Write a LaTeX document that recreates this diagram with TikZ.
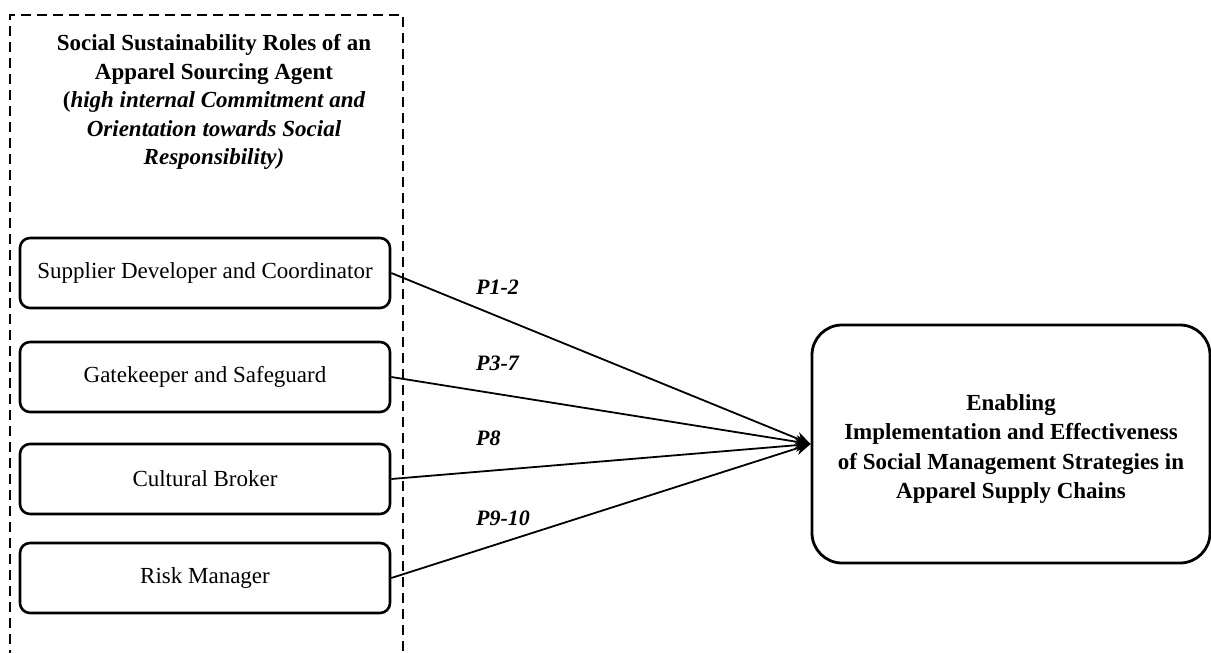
\documentclass[tikz,border=0pt]{standalone}
\usepackage{fontspec}
\setmainfont{Liberation Serif}
\usetikzlibrary{arrows.meta}
\begin{document}
\begin{tikzpicture}[x=1pt,y=-1pt,
  role/.style={draw,line width=2.6pt,rounded corners=10pt,minimum width=370pt,minimum height=70pt,inner sep=0pt,font=\fontsize{23}{26}\selectfont},
  goalbox/.style={draw,line width=2.8pt,rounded corners=30pt,minimum width=398pt,minimum height=238pt,inner sep=0pt},
  goaltext/.style={align=center,inner sep=0pt,font=\bfseries\fontsize{23}{29.5}\selectfont},
  link/.style={line width=1.8pt,-{Stealth[length=15pt,width=13pt]}},
  plabel/.style={anchor=west,inner sep=0pt,font=\bfseries\itshape\fontsize{22}{26}\selectfont},
  frame/.style={line width=1.8pt,dash pattern=on 10pt off 6pt}]
\useasboundingbox (0,0) rectangle (1211,653);

% dashed frame around the agent roles (open at the bottom)
\coordinate (fbl) at (10,660);
\coordinate (ftl) at (10,15);
\coordinate (ftr) at (403,15);
\coordinate (fbr) at (403,660);
\draw[frame] (fbl) -- (ftl) -- (ftr) -- (fbr);

% heading inside the frame
\node[align=center,inner sep=0pt,font=\fontsize{23}{28.5}\selectfont] (head) at (214,102)
  {\bfseries Social Sustainability Roles of an\\
   \bfseries Apparel Sourcing Agent\\
   \bfseries(\itshape high internal Commitment and\\
   \bfseries\itshape Orientation towards Social\\
   \bfseries\itshape Responsibility)};

% role boxes
\node[role] (r1) at (205,273) {Supplier Developer and Coordinator};
\node[role] (r2) at (205,377) {Gatekeeper and Safeguard};
\node[role] (r3) at (205,479) {Cultural Broker};
\node[role] (r4) at (205,578) {Risk Manager};

% outcome box and its text
\node[goalbox] (goal) at (1011,444) {};
\node[goaltext] (goallabel) at ([yshift=-5pt]goal.center)
  {Enabling\\Implementation and Effectiveness\\of Social Management Strategies in\\Apparel Supply Chains};

% propositions
\draw[link] (r1.east) -- (goal.west);
\draw[link] (r2.east) -- (goal.west);
\draw[link] (r3.east) -- (goal.west);
\draw[link] (r4.east) -- (goal.west);

\node[plabel] (p1) at (476,287) {P1-2};
\node[plabel] (p2) at (476,363) {P3-7};
\node[plabel] (p3) at (476,438) {P8};
\node[plabel] (p4) at (476,518) {P9-10};
\end{tikzpicture}
\end{document}
